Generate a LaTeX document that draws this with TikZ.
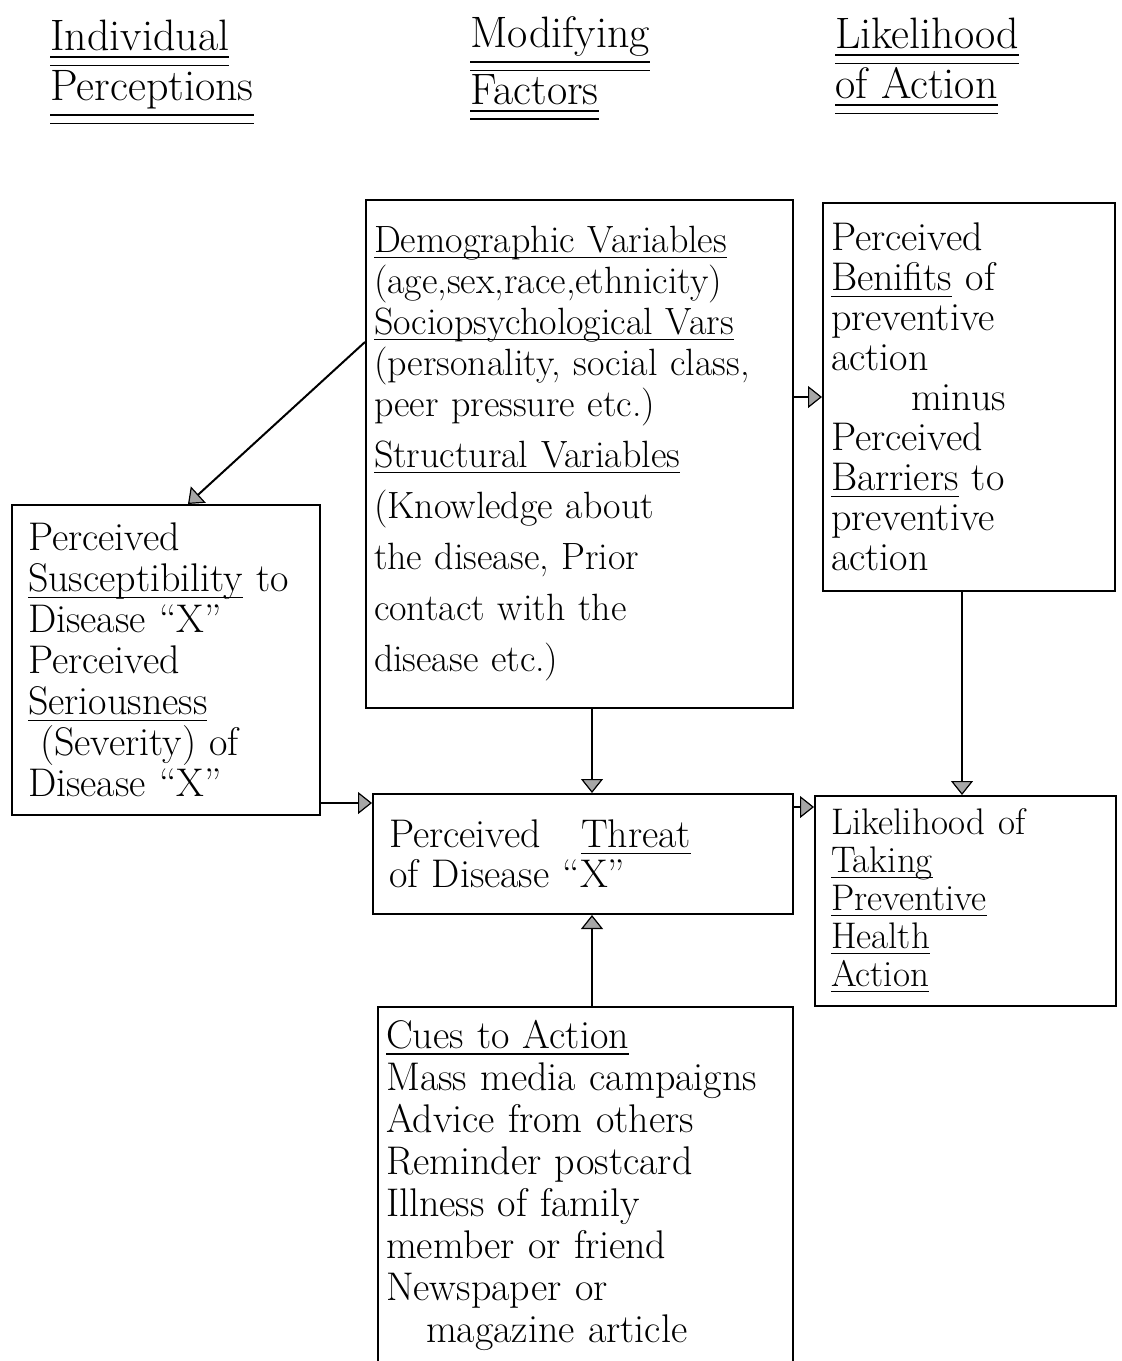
\documentclass[tikz,border=0pt]{standalone}
\usepackage{xcolor}
\usepackage{amsmath}
\usepackage{tikz}
\usetikzlibrary{arrows.meta}

\newcommand{\dul}[1]{\underline{\underline{#1}}}
\newcommand{\ul}[1]{\underline{\smash[b]{#1}}}

\tikzset{
  box/.style={draw, line width=1pt, inner sep=4pt, align=left, anchor=center},
  head/.style={anchor=north west, inner sep=0pt, align=left, font={\fontsize{22}{25}\selectfont}},
  arr/.style={line width=1pt, -{Triangle[width=11pt,length=7pt,fill=gray!70,line width=0.6pt]}},
}

\begin{document}
\begin{tikzpicture}[x=0.5pt,y=0.5pt,yscale=-1,xscale=1]
\useasboundingbox (0,0) rectangle (1121,1361);
\clip (0,0) rectangle (1121,1361);

% Text Node
\draw (50,20) node (hdind) [head] {\dul{Individual}\\\dul{Perceptions}};
% Text Node
\draw (470,16) node (hdmod) [head] {\dul{Modifying}\\\dul{Factors}};
% Text Node
\draw (835,18) node (hdact) [head] {\dul{Likelihood}\\\dul{of Action}};

%Shape: Rectangle
\draw (579.5,454) node (mods) [box, minimum height=254pt, text width=205.5pt, font={\fontsize{19}{20.5}\selectfont}] {\ul{Demographic Variables}\\
(age,sex,race,ethnicity)\\
\ul{Sociopsychological Vars}\\
(personality, social class,\\
peer pressure etc.)\\[5pt]
\ul{Structural Variables}\\[5pt]
(Knowledge about\\[5pt]
the disease, Prior\\[5pt]
contact with the\\[5pt]
disease etc.)};
%Shape: Rectangle
\draw (969,397) node (bene) [box, minimum height=194pt, text width=138pt, inner xsep=4pt, font={\fontsize{20}{20}\selectfont}] {Perceived\\
\ul{Benifits} of\\
preventive\\
action\\
\hspace*{2em}minus\\
Perceived\\
\ul{Barriers} to\\
preventive\\
action};
%Shape: Rectangle
\draw (166,660) node (indv) [box, minimum height=155pt, text width=138pt, inner xsep=8pt, font={\fontsize{20}{20.5}\selectfont}] {Perceived\\
\ul{Susceptibility} to\\
Disease ``X''\\
Perceived\\
\ul{Seriousness}\\
\hspace*{0.3em}(Severity) of\\
Disease ``X''};
%Shape: Rectangle
\draw (583,854) node (threat) [box, minimum height=60pt, text width=194pt, inner xsep=8pt, font={\fontsize{20}{20}\selectfont}] {Perceived\hspace{1em}\ul{Threat}\\
of Disease ``X''};
%Shape: Rectangle
\draw (965.5,901) node (like) [box, minimum height=105pt, text width=134.5pt, inner xsep=8pt, font={\fontsize{18.5}{19}\selectfont}] {Likelihood of\\
\ul{Taking}\\
\ul{Preventive}\\
\ul{Health}\\
\ul{Action}};
%Shape: Rectangle
\draw (585.5,1185) node (cues) [box, minimum height=178pt, text width=199.5pt, font={\fontsize{20}{21}\selectfont}] {\ul{Cues to Action}\\
Mass media campaigns\\
Advice from others\\
Reminder postcard\\
Illness of family\\
member or friend\\
Newspaper or\\
\hspace*{1em}magazine article};

%Straight Lines
\coordinate (m2l) at ([yshift=-56pt]mods.west);
\draw [arr] (m2l) -- ([xshift=11pt]indv.north);
%Straight Lines
\coordinate (m2b) at ([yshift=-28.5pt]mods.east);
\draw [arr] (m2b) -- (m2b -| bene.west);
%Straight Lines
\draw [arr] ([xshift=6.25pt]mods.south) -- ([xshift=6.25pt]mods.south |- threat.north);
%Straight Lines
\draw [arr] ([xshift=-3.5pt]bene.south) -- ([xshift=-3.5pt]bene.south |- like.north);
%Straight Lines
\coordinate (l2t) at ([yshift=-25.5pt]threat.west);
\draw [arr] (l2t -| indv.east) -- (l2t);
%Straight Lines
\coordinate (t2l) at ([yshift=-23.5pt]threat.east);
\draw [arr] (t2l) -- (t2l -| like.west);
%Straight Lines
\draw [arr] ([xshift=3.25pt]cues.north) -- ([xshift=3.25pt]cues.north |- threat.south);

\end{tikzpicture}
\end{document}
